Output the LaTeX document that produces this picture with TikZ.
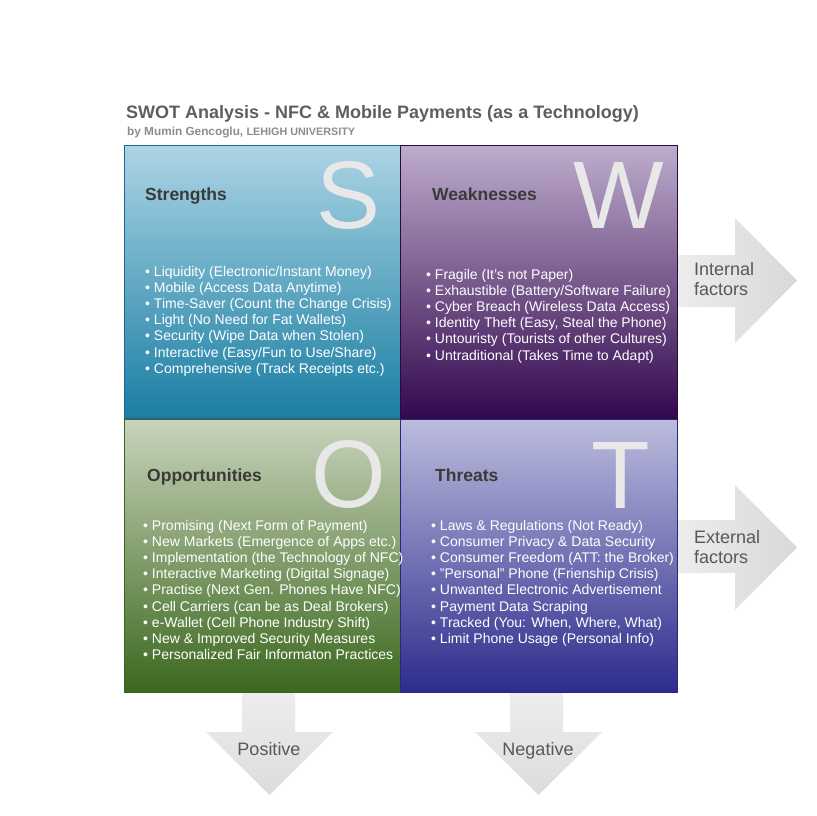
\documentclass[tikz,border=0pt]{standalone}
\usepackage{fontspec}
\setmainfont{Liberation Sans}
\definecolor{titlec}{RGB}{94,94,94}
\definecolor{subc}{RGB}{140,140,140}
\definecolor{headc}{RGB}{58,58,58}
\definecolor{letc}{RGB}{232,232,232}
\definecolor{arrtc}{RGB}{88,88,88}
\definecolor{sTop}{RGB}{172,212,228}
\definecolor{sBot}{RGB}{26,126,163}
\definecolor{sLine}{RGB}{30,100,150}
\definecolor{wTop}{RGB}{190,172,204}
\definecolor{wBot}{RGB}{50,8,78}
\definecolor{wLine}{RGB}{40,10,60}
\definecolor{oTop}{RGB}{200,212,188}
\definecolor{oBot}{RGB}{60,104,30}
\definecolor{oLine}{RGB}{60,100,30}
\definecolor{tTop}{RGB}{188,188,222}
\definecolor{tBot}{RGB}{44,44,140}
\definecolor{tLine}{RGB}{40,40,130}
\definecolor{arrL}{RGB}{238,238,238}
\definecolor{arrR}{RGB}{216,216,216}
\definecolor{arrD}{RGB}{220,220,220}
\begin{document}
\begin{tikzpicture}[x=1pt,y=-1pt,
  qbox/.style={draw, line width=0.8pt, minimum width=277pt, minimum height=273pt, inner sep=0pt, outer sep=0pt},
  bul/.style={anchor=base west, inner sep=0pt, text=white, font=\fontsize{14}{16.2}\selectfont},
  headt/.style={anchor=base west, inner sep=0pt, text=headc, font=\fontsize{17.5}{20}\selectfont\bfseries},
  bigl/.style={anchor=base, inner sep=0pt, text=letc, font=\fontsize{96}{100}\selectfont},
  arrtxt/.style={inner sep=0pt, text=arrtc, font=\fontsize{18}{20}\selectfont},
  rarrow/.style={left color=arrL, right color=arrR, draw=none},
  darrow/.style={top color=arrL, bottom color=arrD, draw=none}
]
\useasboundingbox (0,0) rectangle (817,815);

% arrows (behind the boxes)
\path[rarrow] (670,255) -- (735,255) -- (735,218) -- (797,280.5) -- (735,343) -- (735,307) -- (670,307) -- cycle;
\path[rarrow] (670,520) -- (735,520) -- (735,485) -- (797,547.5) -- (735,610) -- (735,573) -- (670,573) -- cycle;
\path[darrow] (242,688) -- (242,732) -- (206,732) -- (269.5,795) -- (333,732) -- (295,732) -- (295,688) -- cycle;
\path[darrow] (510,688) -- (510,732) -- (475,732) -- (538.5,795) -- (602,732) -- (563,732) -- (563,688) -- cycle;

% quadrants
\node[qbox, draw=sLine, top color=sTop, bottom color=sBot] (S) at (262.5,281.5) {};
\node[qbox, draw=wLine, top color=wTop, bottom color=wBot] (W) at (539,281.5) {};
\node[qbox, draw=oLine, top color=oTop, bottom color=oBot] (O) at (262.5,555.5) {};
\node[qbox, draw=tLine, top color=tTop, bottom color=tBot] (T) at (539,555.5) {};

% title
\node[anchor=base west, inner sep=0pt, text=titlec, font=\fontsize{18}{21}\selectfont\bfseries] (title) at (126,118) {SWOT Analysis - NFC \& Mobile Payments (as a Technology)};
\node[anchor=base west, inner sep=0pt, text=subc, font=\fontsize{11.8}{13}\selectfont\bfseries] (sub) at (127,135) {by Mumin Gencoglu, {\fontsize{10.8}{12}\selectfont LEHIGH UNIVERSITY}};

% big letters
\node[bigl] (bigS) at (348.5,228) {S};
\node[bigl] (bigW) at (619,228) {W};
\node[bigl] (bigO) at (349,507) {O};
\node[bigl] (bigT) at (621,508) {T};

% headings
\node[headt] (hS) at (145,200) {Strengths};
\node[headt] (hW) at (432,200) {Weaknesses};
\node[headt] (hO) at (147,481) {Opportunities};
\node[headt] (hT) at (435,481) {Threats};

% bullets
\foreach \t [count=\k from 0] in {{Liquidity (Electronic/Instant Money)},{Mobile (Access Data Anytime)},{Time-Saver (Count the Change Crisis)},{Light (No Need for Fat Wallets)},{Security (Wipe Data when Stolen)},{Interactive (Easy/Fun to Use/Share)},{Comprehensive (Track Receipts etc.)}}
  \node[bul] (s\k) at (145,276+16.2*\k) {• \t};
\foreach \t [count=\k from 0] in {{Fragile (It's not Paper)},{Exhaustible (Battery/Software Failure)},{Cyber Breach (Wireless Data Access)},{Identity Theft (Easy, Steal the Phone)},{Untouristy (Tourists of other Cultures)},{Untraditional (Takes Time to Adapt)}}
  \node[bul] (w\k) at (426,279+16.2*\k) {• \t};
\foreach \t [count=\k from 0] in {{Promising (Next Form of Payment)},{New Markets (Emergence of Apps etc.)},{Implementation (the Technology of NFC)},{Interactive Marketing (Digital Signage)},{Practise (Next Gen. Phones Have NFC)},{Cell Carriers (can be as Deal Brokers)},{e-Wallet (Cell Phone Industry Shift)},{New \& Improved Security Measures},{Personalized Fair Informaton Practices}}
  \node[bul] (o\k) at (143,530+16.2*\k) {• \t};
\foreach \t [count=\k from 0] in {{Laws \& Regulations (Not Ready)},{Consumer Privacy \& Data Security},{Consumer Freedom (ATT: the Broker)},{"Personal" Phone (Frienship Crisis)},{Unwanted Electronic Advertisement},{Payment Data Scraping},{Tracked (You: When, Where, What)},{Limit Phone Usage (Personal Info)}}
  \node[bul] (t\k) at (431,530+16.2*\k) {• \t};

% arrow labels
\node[arrtxt, anchor=base west] (int1) at (694,275) {Internal};
\node[arrtxt, anchor=base west] (int2) at (694,295) {factors};
\node[arrtxt, anchor=base west] (ext1) at (694,543) {External};
\node[arrtxt, anchor=base west] (ext2) at (694,563) {factors};
\node[arrtxt, anchor=base] (pos) at (269,755) {Positive};
\node[arrtxt, anchor=base] (neg) at (538,755) {Negative};
\end{tikzpicture}
\end{document}
